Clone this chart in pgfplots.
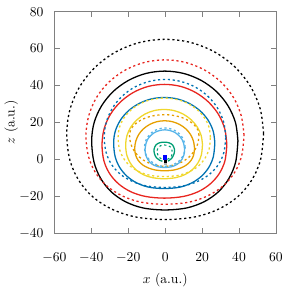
\documentclass[border=0pt]{standalone}
\usepackage{pgfplots}
\pgfplotsset{compat=1.18}
\definecolor{cblack}{RGB}{0,0,0}
\definecolor{cred}{RGB}{232,37,31}
\definecolor{cblue}{RGB}{0,114,178}
\definecolor{cyel}{RGB}{240,215,45}
\definecolor{corange}{RGB}{230,159,0}
\definecolor{csky}{RGB}{86,180,233}
\definecolor{cgreen}{RGB}{0,158,115}
\tikzset{dotl/.style={line width=0.95pt, dash pattern=on 1.6pt off 2.0pt},
         soll/.style={line width=0.95pt}}
\begin{document}
\begin{tikzpicture}
\begin{axis}[
  width=163pt, height=163pt, scale only axis,
  xmin=-60, xmax=60, ymin=-40, ymax=80,
  xtick={-60,-40,-20,0,20,40,60},
  ytick={-40,-20,0,20,40,60,80},
  xlabel={$x$ (a.u.)}, ylabel={$z$ (a.u.)},
  xticklabel style={yshift=-11pt},
  yticklabel style={xshift=-4.5pt},
  xlabel shift=0.5pt,
  ylabel shift=-6pt,
  axis line style={gray},
  tick style={gray, thin},
  major tick length=4pt,
  every axis plot/.append style={smooth, tension=0.55, mark=none},
  clip=true,
]
% black dotted
\addplot[cblack, dotl] coordinates {
(53.3,14) (51.5,27.2) (46.2,39.5) (37.7,50.1) (26.7,58.2) (13.8,63.3) (0,65)
(-13.8,63.3) (-26.7,58.2) (-37.7,50.1) (-46.2,39.5) (-51.5,27.2) (-53.3,14)
(-51.7,0.0) (-46.9,-11.2) (-39.2,-20.3) (-28.8,-27.0) (-16.0,-31.2) (0,-32.6)
(16.0,-31.2) (28.8,-27.0) (39.2,-20.3) (46.9,-11.2) (51.7,0.0) (53.3,14)};
% black solid
\addplot[cblack, soll] coordinates {
(39.4,10) (38.1,19.8) (34.1,28.9) (27.8,36.7) (19.6,42.7) (10.1,46.5) (-0.2,47.8)
(-10.5,46.5) (-20.0,42.7) (-28.2,36.7) (-34.5,28.9) (-38.5,19.8) (-39.8,10)
(-38.6,-1.3) (-35.0,-10.2) (-29.3,-17.5) (-21.6,-22.9) (-12.1,-26.3) (-0.2,-27.4)
(11.7,-26.3) (21.2,-22.9) (28.9,-17.5) (34.6,-10.2) (38.2,-1.3) (39.4,10)};
% red dotted
\addplot[cred, dotl] coordinates {
(42.7,13) (41.2,23.6) (37.0,33.5) (30.2,41.9) (21.3,48.4) (11.0,52.5) (-0.1,53.9)
(-11.2,52.5) (-21.5,48.4) (-30.4,41.9) (-37.2,33.5) (-41.4,23.6) (-42.9,13)
(-41.6,1.8) (-37.8,-7.1) (-31.6,-14.4) (-23.2,-19.8) (-13.0,-23.2) (-0.1,-24.3)
(12.8,-23.2) (23.0,-19.8) (31.4,-14.4) (37.6,-7.1) (41.4,1.8) (42.7,13)};
% red solid
\addplot[cred, soll] coordinates {
(33.4,8) (32.3,16.4) (28.9,24.3) (23.5,31.0) (16.5,36.2) (8.4,39.5) (-0.4,40.6)
(-9.2,39.5) (-17.3,36.2) (-24.3,31.0) (-29.7,24.3) (-33.1,16.4) (-34.2,8)
(-33.2,-0.7) (-30.1,-7.7) (-25.2,-13.3) (-18.7,-17.5) (-10.6,-20.1) (-0.4,-21.0)
(9.8,-20.1) (17.9,-17.5) (24.4,-13.3) (29.3,-7.7) (32.4,-0.7) (33.4,8)};
% blue dotted
\addplot[cblue, dotl] coordinates {
(32.8,12) (31.7,20.1) (28.4,27.7) (23.2,34.1) (16.4,39.1) (8.4,42.2) (-0.1,43.3)
(-8.6,42.2) (-16.6,39.1) (-23.4,34.1) (-28.6,27.7) (-31.9,20.1) (-33.0,12)
(-32.0,3.8) (-29.1,-2.7) (-24.3,-8.0) (-17.9,-11.9) (-10.0,-14.4) (-0.1,-15.2)
(9.8,-14.4) (17.7,-11.9) (24.1,-8.0) (28.9,-2.7) (31.8,3.8) (32.8,12)};
% blue solid
\addplot[cblue, soll] coordinates {
(26.9,9) (26.0,15.3) (23.2,21.3) (18.9,26.3) (13.2,30.2) (6.6,32.7) (-0.5,33.5)
(-7.6,32.7) (-14.2,30.2) (-19.9,26.3) (-24.2,21.3) (-27.0,15.3) (-27.9,9)
(-27.1,1.5) (-24.6,-4.4) (-20.6,-9.2) (-15.3,-12.8) (-8.7,-15.1) (-0.5,-15.8)
(7.7,-15.1) (14.3,-12.8) (19.6,-9.2) (23.6,-4.4) (26.1,1.5) (26.9,9)};
% yellow dotted
\addplot[cyel, dotl] coordinates {
(24.5,12) (23.7,17.5) (21.2,22.6) (17.2,27.0) (12.0,30.4) (6.0,32.5) (-0.5,33.2)
(-7.0,32.5) (-13.0,30.4) (-18.2,27.0) (-22.2,22.6) (-24.7,17.5) (-25.5,12)
(-24.8,5.6) (-22.5,0.5) (-18.9,-3.7) (-14.0,-6.7) (-8.0,-8.7) (-0.5,-9.3)
(7.0,-8.7) (13.0,-6.7) (17.9,-3.7) (21.5,0.5) (23.8,5.6) (24.5,12)};
% yellow solid
\addplot[cyel, soll] coordinates {
(20.2,8) (19.5,12.9) (17.4,17.5) (14.1,21.4) (9.8,24.5) (4.8,26.4) (-0.6,27)
(-6.0,26.4) (-11.0,24.5) (-15.3,21.4) (-18.6,17.5) (-20.7,12.9) (-21.4,8)
(-20.8,2.4) (-18.9,-2.0) (-15.9,-5.6) (-11.8,-8.3) (-6.9,-9.9) (-0.6,-10.5)
(5.7,-9.9) (10.6,-8.3) (14.7,-5.6) (17.7,-2.0) (19.6,2.4) (20.2,8)};
% orange dotted
\addplot[corange, dotl] coordinates {
(18.3,13) (17.7,15.9) (15.8,18.6) (12.8,20.9) (8.9,22.7) (4.4,23.8) (-0.5,24.2)
(-5.4,23.8) (-9.9,22.7) (-13.8,20.9) (-16.8,18.6) (-18.7,15.9) (-19.3,13)
(-18.7,8.6) (-16.8,4.6) (-13.8,1.1) (-9.9,-1.5) (-5.4,-3.2) (-0.5,-3.8)
(4.4,-3.2) (8.9,-1.5) (12.8,1.1) (15.8,4.6) (17.7,8.6) (18.3,13)};
% orange solid
\addplot[corange, soll] coordinates {
(15.9,6) (15.3,9.9) (13.7,13.5) (11.2,16.5) (7.8,18.9) (3.9,20.4) (-0.3,20.9)
(-4.5,20.4) (-8.4,18.9) (-11.8,16.5) (-14.3,13.5) (-15.9,9.9) (-16.5,6)
(-16.0,2.3) (-14.6,-0.6) (-12.2,-3.0) (-9.0,-4.7) (-5.2,-5.8) (-0.3,-6.2)
(4.6,-5.8) (8.4,-4.7) (11.6,-3.0) (14.0,-0.6) (15.4,2.3) (15.9,6)};
% light blue dotted
\addplot[csky, dotl] coordinates {
(10.8,6.5) (10.4,9.2) (9.3,11.8) (7.6,13.9) (5.3,15.6) (2.6,16.6) (-0.2,17.0)
(-3.0,16.6) (-5.7,15.6) (-8.0,13.9) (-9.7,11.8) (-10.8,9.2) (-11.2,6.5)
(-10.8,3.8) (-9.7,1.3) (-8.0,-0.8) (-5.7,-2.4) (-3.0,-3.5) (-0.2,-3.8)
(2.6,-3.5) (5.3,-2.4) (7.6,-0.8) (9.3,1.3) (10.4,3.8) (10.8,6.5)};
% light blue solid
\addplot[csky, soll] coordinates {
(10.5,5.5) (10.1,8.2) (9.1,10.8) (7.4,12.9) (5.2,14.6) (2.6,15.6) (-0.2,16.0)
(-3.0,15.6) (-5.6,14.6) (-7.8,12.9) (-9.5,10.8) (-10.5,8.2) (-10.9,5.5)
(-10.6,2.5) (-9.6,0.2) (-8.1,-1.8) (-6.0,-3.2) (-3.4,-4.1) (-0.2,-4.4)
(3.0,-4.1) (5.6,-3.2) (7.7,-1.8) (9.2,0.2) (10.2,2.5) (10.5,5.5)};
% green dotted
\addplot[cgreen, dotl, line width=0.8pt] coordinates {
(1.2,0) (3.3,1.5) (3.8,4) (3.2,6.5) (1.5,7.5) (-0.5,7.8) (-2.5,7.4)
(-4,6) (-4.3,3.8) (-3.6,1.6) (-2,0.2) (-1.2,-0.2)};
% green solid
\addplot[cgreen, soll] coordinates {
(1.5,-1) (3.5,0.5) (4.8,3) (5,5.5) (4,7.8) (2,9) (-0.5,9.3) (-3,9)
(-5,7.8) (-6,5.5) (-5.8,3) (-4.7,0.8) (-3,-0.5) (-1.5,-1)};
% central markers
\addplot[only marks, mark=square*, mark size=1.0pt, color=gray!60, draw=none] coordinates {(0,-2.0)};
\addplot[only marks, mark=square*, mark size=1.0pt, color=black, draw=none] coordinates {(0,-0.7)};
\addplot[only marks, mark=square*, mark size=1.1pt, color=blue, draw=none] coordinates {(0,0.9) (0,1.6)};
\end{axis}
\path ([shift={(0pt,2pt)}]current bounding box.north west);
\end{tikzpicture}
\end{document}
